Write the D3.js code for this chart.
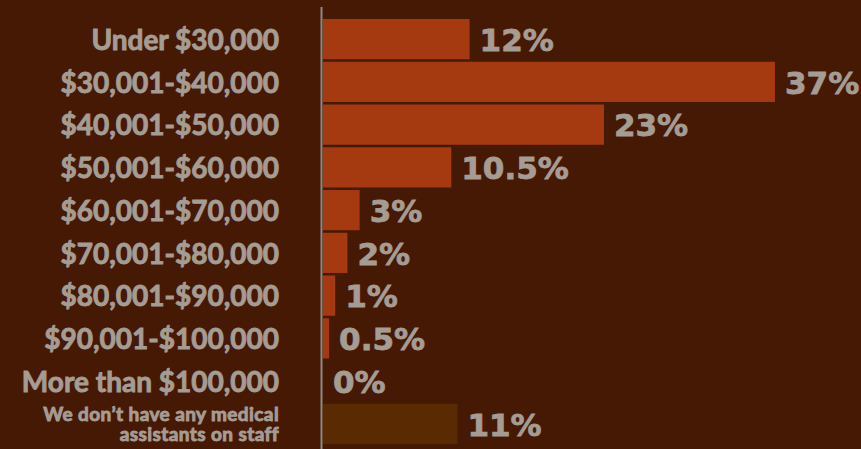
<!DOCTYPE html>
<html>
<head>
<meta charset="utf-8">
<script src="https://cdn.jsdelivr.net/npm/d3@7"></script>
<style>
  html, body { margin: 0; padding: 0; background: #461905; }
  svg { display: block; }
</style>
</head>
<body>
<div id="chart"></div>
<script>
var categories = [
  "Under $30,000",
  "$30,001-$40,000",
  "$40,001-$50,000",
  "$50,001-$60,000",
  "$60,001-$70,000",
  "$70,001-$80,000",
  "$80,001-$90,000",
  "$90,001-$100,000",
  "More than $100,000",
  "We don\u2019t have any medical|assistants on staff"
];
var values = [12, 37, 23, 10.5, 3, 2, 1, 0.5, 0, 11];
var valueLabels = ["12%", "37%", "23%", "10.5%", "3%", "2%", "1%", "0.5%", "0%", "11%"];

var width = 861, height = 449;
var margin = { top: 19, left: 323 };

var svg = d3.select("#chart")
  .append("svg")
  .attr("width", width)
  .attr("height", height);

svg.append("rect")
  .attr("width", width)
  .attr("height", height)
  .attr("fill", "#461905");

var x = d3.scaleLinear()
  .domain([0, 37])
  .range([margin.left, 775]);

var y = d3.scaleBand()
  .domain(d3.range(categories.length))
  .range([margin.top, margin.top + 42.5 * categories.length])
  .paddingInner(2.5 / 42.5)
  .paddingOuter(0);

// bars
svg.append("g")
  .selectAll("rect")
  .data(values)
  .enter()
  .append("rect")
  .attr("x", x(0))
  .attr("y", function (d, i) { return y(i); })
  .attr("width", function (d) { return x(d) - x(0); })
  .attr("height", y.bandwidth())
  .attr("fill", function (d, i) { return i == categories.length - 1 ? "#5a2a02" : "#a53a10"; });

// axis line
svg.append("line")
  .attr("x1", 321.5)
  .attr("x2", 321.5)
  .attr("y1", 7)
  .attr("y2", height)
  .attr("stroke", "#8f8983")
  .attr("stroke-width", 2);

// value labels
svg.append("g")
  .selectAll("text")
  .data(values)
  .enter()
  .append("text")
  .attr("x", function (d) { return x(d) + 10; })
  .attr("y", function (d, i) { return y(i) + y.bandwidth() / 2; })
  .attr("dy", "0.38em")
  .attr("font-family", "DejaVu Sans")
  .attr("font-weight", "bold")
  .attr("font-size", 31)
  .attr("fill", "#a59c94")
  .attr("stroke", "#a59c94")
  .attr("stroke-width", 0.8)
  .text(function (d, i) { return valueLabels[i]; });

// category labels (the last one is split over two lines)
var labelG = svg.append("g")
  .attr("font-family", "Lato")
  .attr("font-weight", "bold")
  .attr("text-anchor", "end")
  .attr("fill", "#a59c94")
  .attr("stroke", "#a59c94");

categories.forEach(function (d, i) {
  var lines = d.split("|");
  var cy = y(i) + y.bandwidth() / 2;
  if (lines.length == 1) {
    labelG.append("text")
      .attr("x", 279)
      .attr("y", cy)
      .attr("dy", "0.38em")
      .attr("font-size", 28)
      .attr("stroke-width", 0.9)
      .text(d);
  } else {
    lines.forEach(function (line, j) {
      labelG.append("text")
        .attr("x", 279)
        .attr("y", cy - 3 + j * 20)
        .attr("font-size", 19)
        .attr("letter-spacing", 0.4)
        .attr("stroke-width", 0.9)
        .text(line);
    });
  }
});
</script>
</body>
</html>
